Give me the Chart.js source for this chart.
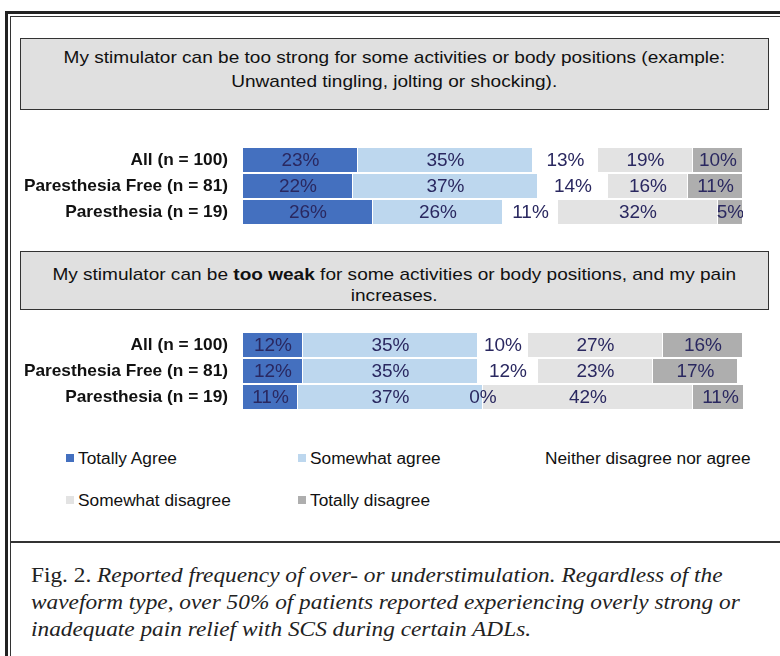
<!DOCTYPE html>
<html lang="en">
<head>
<meta charset="UTF-8">
<title>Over- or understimulation</title>
<script src="https://cdn.jsdelivr.net/npm/chart.js"></script>
<style>
  html, body { margin: 0; padding: 0; background: #fff; }
  body { width: 780px; height: 656px; position: relative; overflow: hidden; font-family: "Liberation Sans", Arial, sans-serif; }
  .frame-outer { position: absolute; left: 5px; top: 11px; width: 900px; height: 800px; border-left: 3px solid #222; border-top: 3px solid #222; }
  .frame-inner { position: absolute; left: 10px; top: 16px; width: 900px; height: 800px; border-left: 1px solid #333; border-top: 1px solid #333; }
  .sep { position: absolute; left: 10px; top: 541px; width: 800px; height: 0; border-top: 2px solid #333; }
  .qbox { position: absolute; left: 20px; width: 749px; background: #e0e0e0; border: 1.5px solid #333; box-sizing: border-box;
          text-align: center; font-size: 17px; color: #111; display: flex; align-items: center; justify-content: center; }
  .qbox div { transform: scaleX(1.12); white-space: nowrap; }
  .chartbox { position: absolute; left: 0; width: 743px; height: 78px; }
  .legend { position: absolute; font-size: 17.3px; color: #111; white-space: nowrap; }
  .legend span.sw { display: inline-block; width: 8px; height: 8px; margin-right: 4px; vertical-align: 2px; }
  .caption { position: absolute; left: 31px; top: 561px; font-family: "Liberation Serif", "DejaVu Serif", serif; font-size: 22px;
             line-height: 27px; color: #222; white-space: nowrap; transform: scaleX(1.06); transform-origin: left top; }
  .caption i { font-style: italic; }
</style>
</head>
<body>
<div class="frame-outer"></div>
<div class="frame-inner"></div>
<div class="sep"></div>

<div class="qbox" style="top:38px;height:72px;line-height:24px;padding-bottom:8px;">
  <div>My stimulator can be too strong for some activities or body positions (example:<br>Unwanted tingling, jolting or shocking).</div>
</div>
<div class="chartbox" style="top:147px;"><canvas id="strongChart"></canvas></div>

<div class="qbox" style="top:251px;height:59px;line-height:21px;padding-top:8px;">
  <div>My stimulator can be <b>too weak</b> for some activities or body positions, and my pain<br>increases.</div>
</div>
<div class="chartbox" style="top:332px;"><canvas id="weakChart"></canvas></div>

<div id="legend"></div>

<div class="caption">Fig. 2. <i>Reported frequency of over- or understimulation. Regardless of the</i><br><i>waveform type, over 50% of patients reported experiencing overly strong or</i><br><i>inadequate pain relief with SCS during certain ADLs.</i></div>

<script>
// Data
const groups = ['All (n = 100)', 'Paresthesia Free (n = 81)', 'Paresthesia (n = 19)'];
const answers = ['Totally Agree', 'Somewhat agree', 'Neither disagree nor agree', 'Somewhat disagree', 'Totally disagree'];
const colors = ['#4470bf', '#bdd7ee', '#ffffff', '#e3e3e3', '#aeaeae'];

// too strong: one array per answer, values per group
const strongTotallyAgree = [23, 22, 26];
const strongSomewhatAgree = [35, 37, 26];
const strongNeither = [13, 14, 11];
const strongSomewhatDisagree = [19, 16, 32];
const strongTotallyDisagree = [10, 11, 5];

// too weak
const weakTotallyAgree = [12, 12, 11];
const weakSomewhatAgree = [35, 35, 37];
const weakNeither = [10, 12, 0];
const weakSomewhatDisagree = [27, 23, 42];
const weakTotallyDisagree = [16, 17, 11];

const LABEL_FONT = '19px "Liberation Sans", Arial, sans-serif';
const LABEL_COLOR = '#2a2860';

// draw the percentages in the middle of each segment
const segmentLabels = {
  id: 'segmentLabels',
  afterDatasetsDraw(chart) {
    const ctx = chart.ctx;
    ctx.save();
    ctx.font = LABEL_FONT;
    ctx.fillStyle = LABEL_COLOR;
    ctx.textAlign = 'center';
    ctx.textBaseline = 'middle';
    chart.data.datasets.forEach((ds, i) => {
      const meta = chart.getDatasetMeta(i);
      meta.data.forEach((bar, j) => {
        const x = (bar.x + bar.base) / 2;
        ctx.fillText(ds.data[j] + '%', x, bar.y + 1);
      });
    });
    ctx.restore();
  }
};

const makeChart = (id, series) => {
  new Chart(document.getElementById(id), {
    type: 'bar',
    data: {
      labels: groups,
      datasets: series.map((s, i) => ({
        label: answers[i],
        data: s,
        backgroundColor: colors[i],
        borderColor: '#ffffff',
        borderWidth: { left: 0, right: 1, top: 0, bottom: 0 },
        borderSkipped: false,
        barPercentage: 0.92,
        categoryPercentage: 1
      }))
    },
    options: {
      indexAxis: 'y',
      responsive: true,
      maintainAspectRatio: false,
      animation: false,
      layout: { padding: 0 },
      plugins: { legend: { display: false }, tooltip: { enabled: false } },
      scales: {
        x: { stacked: true, min: 0, max: 100, display: false },
        y: {
          stacked: true,
          grid: { display: false, drawTicks: false },
          border: { display: false },
          ticks: {
            color: '#111',
            padding: 15,
            font: { family: '"Liberation Sans", Arial, sans-serif', size: 17.3, weight: 'bold' }
          },
          afterFit(scale) {
            // fixed label column, and no extra room above/below the rows
            scale.width = 243;
            scale.paddingTop = 0;
            scale.paddingBottom = 0;
          }
        }
      }
    },
    plugins: [segmentLabels]
  });
};

makeChart('strongChart', [strongTotallyAgree, strongSomewhatAgree, strongNeither, strongSomewhatDisagree, strongTotallyDisagree]);
makeChart('weakChart', [weakTotallyAgree, weakSomewhatAgree, weakNeither, weakSomewhatDisagree, weakTotallyDisagree]);

// legend, three columns and two rows like the original
const legendPos = [[66, 448], [298, 448], [533, 448], [66, 490], [298, 490]];
const legendEl = document.getElementById('legend');
answers.forEach((name, i) => {
  const d = document.createElement('div');
  d.className = 'legend';
  d.style.left = legendPos[i][0] + 'px';
  d.style.top = legendPos[i][1] + 'px';
  d.innerHTML = '<span class="sw" style="background:' + colors[i] + '"></span>' + name;
  legendEl.appendChild(d);
});
</script>
</body>
</html>
